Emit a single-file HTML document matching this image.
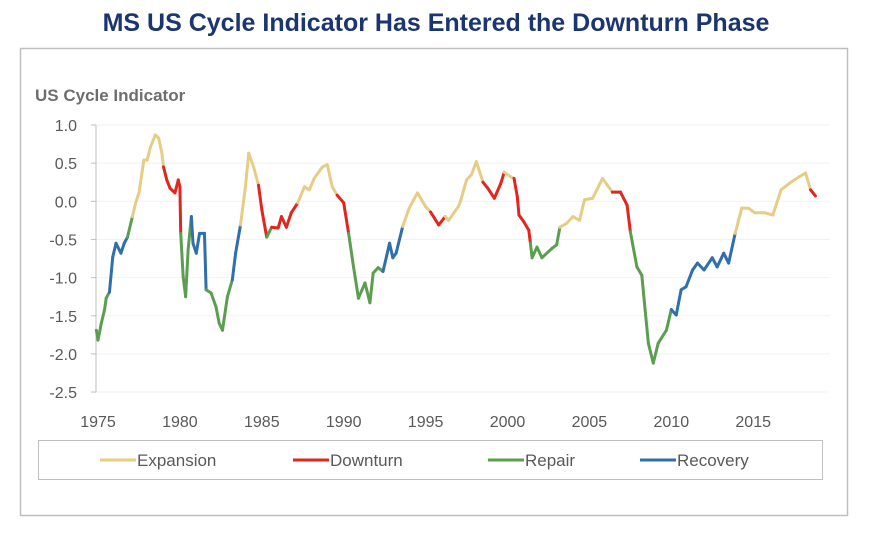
<!DOCTYPE html>
<html><head><meta charset="utf-8"><style>
body{margin:0;background:#fff;width:873px;height:532px;overflow:hidden;font-family:"Liberation Sans",sans-serif}
</style></head><body>
<svg width="873" height="532" viewBox="0 0 873 532">
<text x="436" y="31" text-anchor="middle" font-family="Liberation Sans, sans-serif" font-weight="bold" font-size="25" fill="#1b3570">MS US Cycle Indicator Has Entered the Downturn Phase</text>
<rect x="20.5" y="48.5" width="827" height="467" fill="none" stroke="#bfbfbf" stroke-width="1.5"/>
<text x="35" y="101" font-family="Liberation Sans, sans-serif" font-weight="bold" font-size="17" fill="#6e6e6e">US Cycle Indicator</text>
<g id="grid"></g>
<g id="yaxis"></g>
<g id="xaxis"></g>
<g id="series"></g>
<rect x="38.5" y="440.5" width="784" height="39" fill="none" stroke="#bfbfbf"/>
<g id="legend"></g>
</svg>
<script>
const years=[1974.9,1975.0,1975.2,1975.4,1975.5,1975.7,1975.9,1976.1,1976.4,1976.6,1976.8,1977.1,1977.3,1977.5,1977.8,1978.0,1978.2,1978.5,1978.7,1978.9,1979.0,1979.2,1979.4,1979.7,1979.9,1980.0,1980.05,1980.2,1980.35,1980.5,1980.7,1980.8,1981.0,1981.2,1981.5,1981.6,1981.9,1982.2,1982.4,1982.6,1982.9,1983.2,1983.4,1983.7,1984.0,1984.2,1984.5,1984.8,1985.0,1985.3,1985.6,1986.0,1986.2,1986.5,1986.8,1987.2,1987.6,1987.9,1988.2,1988.7,1989.0,1989.3,1989.6,1990.0,1990.3,1990.6,1990.9,1991.3,1991.6,1991.8,1992.1,1992.4,1992.8,1993.0,1993.2,1993.6,1994.0,1994.5,1995.0,1995.3,1995.8,1996.2,1996.4,1997.0,1997.1,1997.5,1997.8,1998.1,1998.4,1998.5,1998.8,1999.2,1999.6,1999.8,2000.2,2000.4,2000.6,2000.7,2001.0,2001.3,2001.4,2001.5,2001.8,2002.1,2002.7,2003.0,2003.2,2003.6,2004.0,2004.4,2004.7,2005.2,2005.8,2006.4,2006.9,2007.3,2007.5,2007.9,2008.2,2008.4,2008.6,2008.9,2009.2,2009.7,2010.0,2010.3,2010.6,2010.9,2011.3,2011.6,2012.0,2012.5,2012.8,2013.2,2013.5,2013.9,2014.3,2014.7,2015.1,2015.7,2016.2,2016.7,2017.3,2017.8,2018.2,2018.5,2018.8];
const values=[-1.69,-1.82,-1.6,-1.42,-1.27,-1.19,-0.73,-0.55,-0.68,-0.55,-0.47,-0.2,-0.02,0.11,0.54,0.54,0.71,0.87,0.83,0.63,0.45,0.28,0.17,0.11,0.28,0.19,-0.42,-0.99,-1.25,-0.64,-0.2,-0.55,-0.68,-0.42,-0.42,-1.16,-1.2,-1.38,-1.6,-1.69,-1.25,-1.03,-0.68,-0.31,0.19,0.63,0.45,0.21,-0.11,-0.47,-0.34,-0.35,-0.2,-0.34,-0.15,-0.02,0.19,0.15,0.3,0.45,0.48,0.19,0.08,-0.02,-0.42,-0.86,-1.27,-1.07,-1.33,-0.94,-0.87,-0.92,-0.55,-0.74,-0.68,-0.33,-0.09,0.11,-0.07,-0.14,-0.31,-0.2,-0.25,-0.07,-0.02,0.28,0.35,0.52,0.32,0.25,0.17,0.04,0.24,0.38,0.32,0.3,0.06,-0.18,-0.27,-0.38,-0.55,-0.74,-0.6,-0.74,-0.62,-0.57,-0.34,-0.29,-0.2,-0.25,0.02,0.04,0.3,0.12,0.12,-0.05,-0.4,-0.86,-0.97,-1.42,-1.86,-2.12,-1.86,-1.69,-1.42,-1.49,-1.16,-1.12,-0.9,-0.81,-0.9,-0.74,-0.86,-0.68,-0.81,-0.42,-0.09,-0.09,-0.15,-0.15,-0.18,0.15,0.25,0.32,0.37,0.15,0.07];
// phase regimes: start year of each regime and its phase code
const phaseStarts=[1970,1975.65,1976.7,1977.1,1979.0,1980.03,1980.75,1981.65,1983.15,1983.7,1984.8,1985.3,1985.5,1987.2,1989.6,1990.3,1992.35,1993.6,1995.3,1996.3,1998.5,1999.8,2000.4,2001.4,2003.2,2006.4,2007.5,2010.0,2013.9,2018.5];
const phaseCodes=["R","C","R","E","D","R","C","R","C","E","D","R","D","E","D","R","C","E","D","E","D","E","D","R","E","D","R","C","E","D"];
const yTicks=[1.0,0.5,0.0,-0.5,-1.0,-1.5,-2.0,-2.5];
const xTicks=[1975,1980,1985,1990,1995,2000,2005,2010,2015];
const phaseNames=["Expansion","Downturn","Repair","Recovery"];
const colors={E:"#e6cd86",D:"#e0261f",R:"#5c9e50",C:"#2f6fab"};
const NS="http://www.w3.org/2000/svg";
function X(yr){return 98+(yr-1975)*16.38;}
function Y(v){return 125+(1-v)*76.3;}
function phaseAt(yr){let p=phaseCodes[0];for(let k=0;k<phaseStarts.length;k++){if(yr>=phaseStarts[k])p=phaseCodes[k];}return p;}
function mk(tag,attrs,parent){const e=document.createElementNS(NS,tag);for(const k in attrs)e.setAttribute(k,attrs[k]);parent.appendChild(e);return e;}
const grid=document.getElementById('grid'),ya=document.getElementById('yaxis'),xa=document.getElementById('xaxis'),ser=document.getElementById('series'),lg=document.getElementById('legend');
yTicks.forEach(t=>{
  const g=mk('line',{x1:96,x2:830,y1:Y(t),y2:Y(t),stroke:'#f2f2f2','stroke-width':1},grid);
  
  
  mk('line',{x1:91,x2:96,y1:Y(t),y2:Y(t),stroke:'#bfbfbf'},ya);
  const tx=mk('text',{x:77,y:Y(t)+6,'text-anchor':'end','font-size':16,fill:'#595959','font-family':'Liberation Sans, sans-serif'},ya);
  tx.textContent=t.toFixed(1);
  
  
});
mk('line',{x1:96,x2:96,y1:Y(1.0),y2:Y(-2.5),stroke:'#bfbfbf'},ya);
xTicks.forEach(t=>{
  const tx=mk('text',{x:X(t),y:427,'text-anchor':'middle','font-size':16,fill:'#595959','font-family':'Liberation Sans, sans-serif'},xa);
  tx.textContent=t;
  
  
});
for(let i=1;i<years.length;i++){
  const mid=(years[i-1]+years[i])/2;
  const s=mk('line',{x1:X(years[i-1]),y1:Y(values[i-1]),x2:X(years[i]),y2:Y(values[i]),stroke:colors[phaseAt(mid)],'stroke-width':3,'stroke-linecap':'round'},ser);
  
  
}
const lx=[100,293,488,640],codes=['E','D','R','C'];
phaseNames.forEach((n,i)=>{
  const g=mk('g',{},lg);
  
  
  mk('line',{x1:lx[i],x2:lx[i]+36,y1:460,y2:460,stroke:colors[codes[i]],'stroke-width':3},g);
  const t=mk('text',{x:lx[i]+37,y:466,'font-size':17,fill:'#595959','font-family':'Liberation Sans, sans-serif'},g);
  t.textContent=n;
});
</script>
</body></html>
